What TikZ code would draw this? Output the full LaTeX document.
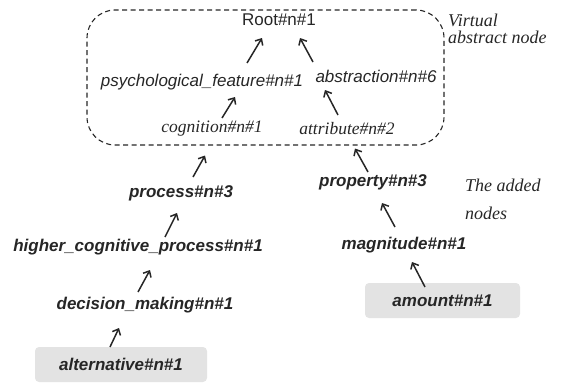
\documentclass[tikz,border=0pt]{standalone}
\usepackage{fontspec}
\setmainfont{Liberation Serif}
\setsansfont{Liberation Sans}
\usepackage{xcolor}
\usepackage{tikz}
\usetikzlibrary{positioning, arrows.meta}

\begin{document}
\begin{tikzpicture}[
    x=1pt, y=-1pt, % koordinat mengikuti piksel gambar
    every node/.style={text=black!85, inner sep=1pt},
    word/.style={font=\sffamily\fontsize{17}{20}\selectfont},
    wordit/.style={font=\sffamily\itshape\fontsize{17}{20}\selectfont},
    wordser/.style={font=\rmfamily\itshape\fontsize{17.5}{20}\selectfont},
    added/.style={font=\sffamily\bfseries\itshape\fontsize{17}{20}\selectfont},
    leaf/.style={added, fill=black!11, rounded corners=4pt, minimum height=35pt},
    virtualbox/.style={draw=black!85, line width=1.1pt, dash pattern=on 5pt off 3.5pt, rounded corners=28pt, minimum width=357pt, minimum height=135pt},
    note/.style={font=\rmfamily\itshape\fontsize{18}{17}\selectfont, align=left, anchor=west},
    link/.style={draw=black!85, line width=1.5pt, -{Straight Barb[length=5pt, width=9pt]}}
]
\useasboundingbox (0,0) rectangle (562,383);

% Kotak node abstrak virtual
\node[virtualbox] (virtual) at (265.5,77.5) {};
\node[note] (virtualnote) at (447,29) {Virtual\\abstract node};
\node[note, font=\rmfamily\itshape\fontsize{18}{28}\selectfont] (addednote) at (464,199) {The added\\nodes};

% Node di dalam kotak
\node[word] (root) at (279,20) {Root\#n\#1};
\node[wordit] (psych) at (202,82) {psychological\_feature\#n\#1};
\node[wordit] (abstr) at (376,76) {abstraction\#n\#6};
\node[wordser] (cog) at (212,129) {cognition\#n\#1};
\node[wordser] (attr) at (347,129) {attribute\#n\#2};

% Node yang ditambahkan
\node[added] (process) at (181,193) {process\#n\#3};
\node[added] (hcp) at (138,247) {higher\_cognitive\_process\#n\#1};
\node[added] (decision) at (145,305) {decision\_making\#n\#1};
\node[leaf, minimum width=172pt] (alternative) at (121,364.5) {alternative\#n\#1};
\node[added] (property) at (373,182) {property\#n\#3};
\node[added] (magnitude) at (404,245) {magnitude\#n\#1};
\node[leaf, minimum width=155pt] (amount) at (442.5,300.5) {amount\#n\#1};

% Relasi hipernim
\draw[link] ([shift={(10,-11)}]cog.center) -- ([shift={(33,15)}]psych.center);
\draw[link] ([shift={(-9,-14)}]attr.center) -- ([shift={(-51,14)}]abstr.center);
\draw[link] ([shift={(45,-19)}]psych.center) -- ([shift={(-17,18)}]root.center);
\draw[link] ([shift={(-63,-14)}]abstr.center) -- ([shift={(21,18)}]root.center);
\draw[link] ([shift={(12,-16)}]process.center) -- ([shift={(-60.5,10)}]virtual.south);
\draw[link] ([shift={(-5,-10)}]property.center) -- ([shift={(89.5,3)}]virtual.south);
\draw[link] ([shift={(27,-10)}]hcp.center) -- ([shift={(-4,20)}]process.center);
\draw[link] ([shift={(-7,-13)}]decision.center) -- ([shift={(12,23)}]hcp.center);
\draw[link] ([shift={(-11,-17.5)}]alternative.center) -- ([shift={(-26,23)}]decision.center);
\draw[link] ([shift={(-9,-18)}]magnitude.center) -- ([shift={(9,21)}]property.center);
\draw[link] ([shift={(-17.5,-13.5)}]amount.center) -- ([shift={(8,17)}]magnitude.center);

\end{tikzpicture}
\end{document}
